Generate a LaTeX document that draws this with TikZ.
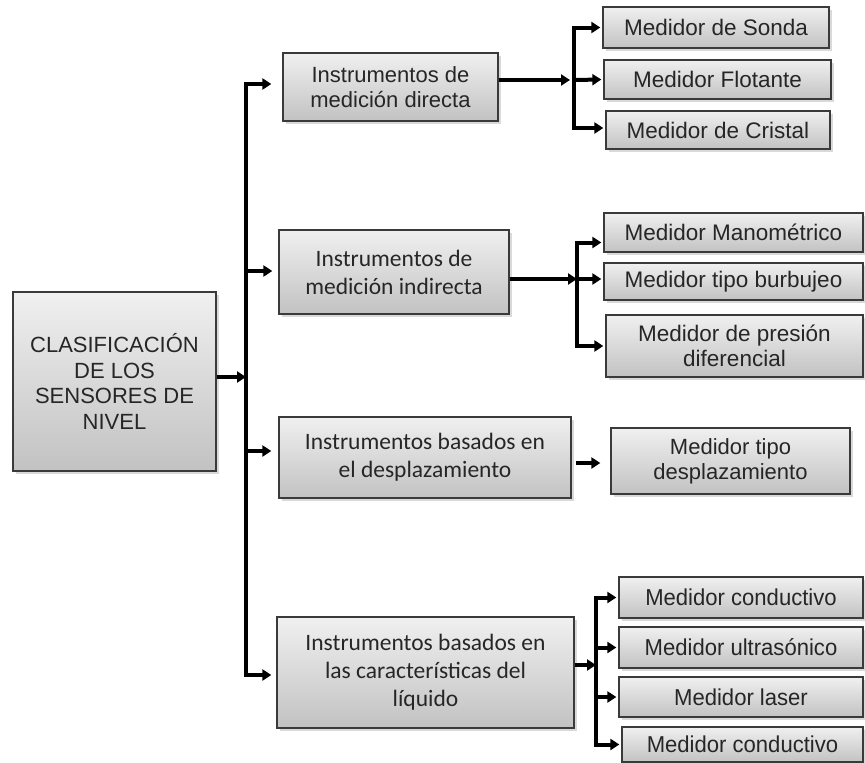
\documentclass[tikz,border=0pt]{standalone}
\usepackage{fontspec}
\setmainfont{Liberation Sans}
\newfontfamily\fnarrow[FakeStretch=0.96]{Liberation Sans}
\newfontfamily\fcal{Carlito}
\usetikzlibrary{arrows.meta,shadows}

\definecolor{boxtop}{HTML}{F0F0F0}
\definecolor{boxbot}{HTML}{C2C2C2}
\definecolor{boxline}{HTML}{3A3A3A}
\definecolor{ink}{HTML}{262626}

\tikzset{
  box/.style={draw=boxline, line width=1.3pt, shading=axis,
    top color=boxtop, bottom color=boxbot, inner sep=0pt,
    align=center, text=ink,
    drop shadow={shadow xshift=2.5pt, shadow yshift=-3pt, opacity=0.3}},
  wtxt/.style={font={\rmfamily\fontsize{22.5}{25}\selectfont}},
  atxt/.style={font={\rmfamily\fontsize{22}{25}\selectfont}},
  mtxt/.style={font={\rmfamily\fontsize{22}{25.7}\selectfont}},
  ntxt/.style={font={\fnarrow\fontsize{23}{27}\selectfont}},
  ctxt/.style={font={\fcal\fontsize{23.5}{28}\selectfont}},
  arr/.style={draw=black, line width=4pt, line join=miter,
    -{Triangle[length=9pt,width=11pt]}},
}

\begin{document}
\begin{tikzpicture}[x=1pt,y=-1pt]
\useasboundingbox (0,0) rectangle (865,763);

% root and first level
\node[box,mtxt,minimum width=203pt,minimum height=179pt] (main) at (114.5,381.5)
  {CLASIFICACIÓN\\DE LOS\\SENSORES DE\\NIVEL};
\node[box,atxt,minimum width=215pt,minimum height=68pt] (A) at (390.5,87)
  {Instrumentos de\\medición directa};
\node[box,ctxt,minimum width=230pt,minimum height=84pt] (B) at (394,272)
  {Instrumentos de\\medición indirecta};
\node[box,ctxt,minimum width=292pt,minimum height=81pt] (C) at (425,457.5)
  {Instrumentos basados en\\el desplazamiento};
\node[box,ctxt,minimum width=297pt,minimum height=111pt] (D) at (425.5,672.5)
  {Instrumentos basados en\\las características del\\líquido};

% second level
\node[box,wtxt,minimum width=226pt,minimum height=41pt] (a1) at (716,27.5) {Medidor de Sonda};
\node[box,wtxt,minimum width=227pt,minimum height=39pt] (a2) at (717.5,79.5) {Medidor Flotante};
\node[box,wtxt,minimum width=224pt,minimum height=38pt] (a3) at (718,130) {Medidor de Cristal};

\node[box,wtxt,minimum width=259pt,minimum height=39pt] (b1) at (733.5,232.5) {Medidor Manométrico};
\node[box,wtxt,minimum width=259pt,minimum height=37pt] (b2) at (733.5,281.5) {Medidor tipo burbujeo};
\node[box,wtxt,minimum width=257pt,minimum height=62pt] (b3) at (734.5,346) {Medidor de presión\\diferencial};

\node[box,atxt,minimum width=239pt,minimum height=66pt] (c1) at (730.5,461) {Medidor tipo\\desplazamiento};

\node[box,ntxt,minimum width=244pt,minimum height=41pt] (d1) at (741,597.5) {Medidor conductivo};
\node[box,ntxt,minimum width=244pt,minimum height=41pt] (d2) at (741,647.5) {Medidor ultrasónico};
\node[box,ntxt,minimum width=244pt,minimum height=40pt] (d3) at (741,697) {Medidor laser};
\node[box,ntxt,minimum width=241pt,minimum height=35pt] (d4) at (742.5,744.5) {Medidor conductivo};

% trunk from the root
\coordinate (J) at (246,377);
\coordinate (tb) at (246,271);
\coordinate (tc) at (246,451);
\draw[arr] (main.east|-J) -- (J);
\draw[arr] (J) |- ([xshift=-11pt,yshift=3pt]A.west);
\draw[arr,shorten >=6pt] (tb) -- (tb-|B.west);
\draw[arr,shorten >=7pt] (tc) -- (tc-|C.west);
\draw[arr] (J) |- ([xshift=-5pt,yshift=-2.5pt]D.west);

% branch: direct measurement
\coordinate (ja) at (574,80);
\draw[arr,shorten >=4pt] (A.east|-ja) -- (ja);
\draw[arr] (ja) |- ([xshift=-2pt]a1.west);
\draw[arr] (ja) -- ([xshift=-2pt]a2.west);
\draw[arr] (ja) |- ([xshift=-2pt,yshift=2pt]a3.west);

% branch: indirect measurement
\coordinate (jb) at (577,279);
\draw[arr] (B.east|-jb) -- (jb);
\draw[arr] (jb) |- ([xshift=-2pt,yshift=-10pt]b1.west);
\draw[arr] (jb) -- ([xshift=-2pt]b2.west|-jb);
\draw[arr] (jb) |- ([xshift=-2pt]b3.west);

% displacement
\coordinate (jc) at ([yshift=-5.5pt]C.east);
\draw[arr,shorten <=4pt,shorten >=10pt] (jc) -- (jc-|c1.west);

% branch: liquid properties
\coordinate (jd) at (596,665);
\draw[arr] (D.east|-jd) -- (jd);
\draw[arr] (jd) |- ([xshift=-2pt]d1.west);
\draw[arr] (jd) |- ([xshift=-2pt]d2.west);
\draw[arr] (jd) |- ([xshift=-2pt]d3.west);
\draw[arr] (jd) |- ([xshift=-2pt]d4.west);
\end{tikzpicture}
\end{document}
